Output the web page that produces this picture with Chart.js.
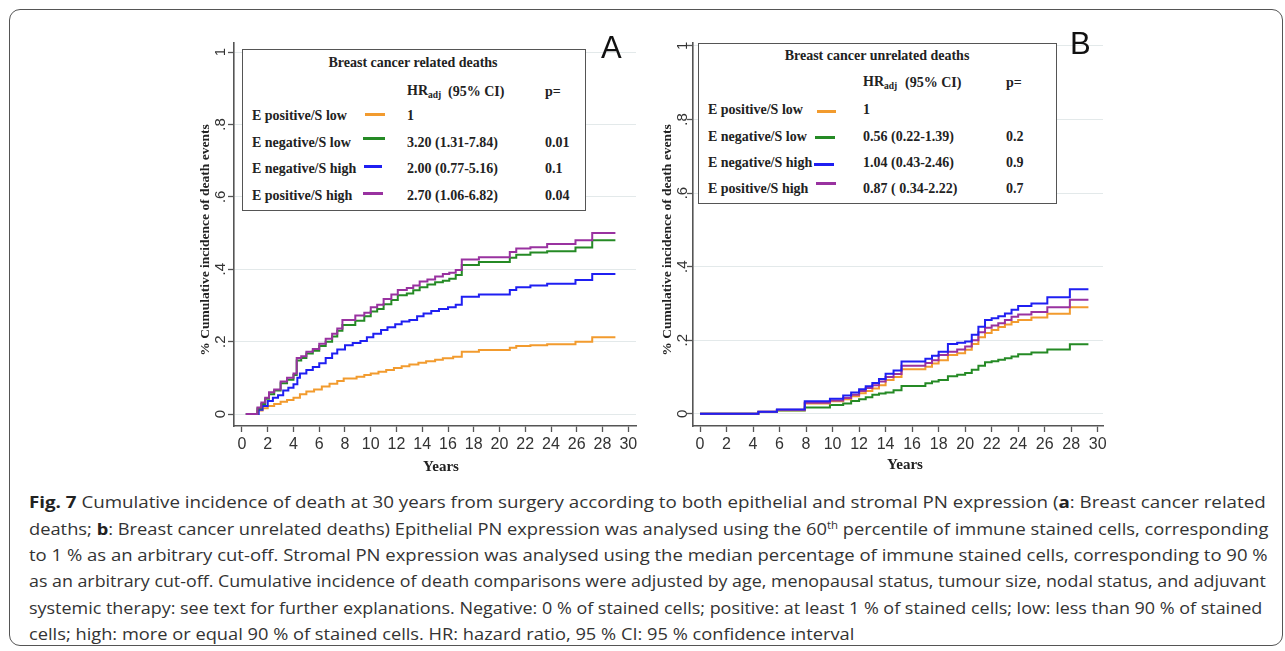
<!DOCTYPE html>
<html><head><meta charset="utf-8">
<script src="https://cdn.jsdelivr.net/npm/chart.js@4.4.0/dist/chart.umd.min.js"></script>
<style>
body{margin:0;width:1285px;height:651px;background:#fff;position:relative;overflow:hidden;}
.frame{position:absolute;left:9px;top:9px;width:1274px;height:637px;border:1.3px solid #555;border-radius:11px;box-sizing:border-box;}
canvas{position:absolute;top:0;}
#cA{left:150px;} #cB{left:610px;}
.leg{position:absolute;border:1.6px solid #555;background:#fff;box-sizing:border-box;}
.t{position:absolute;font:bold 14px "Liberation Serif",serif;color:#222;white-space:nowrap;transform:translateY(-50%);line-height:1;}
.t sub{font-size:9.5px;vertical-align:-3px;}
.tc{transform:translate(-50%,-50%);}
.sw{position:absolute;height:3px;}
.pl{position:absolute;font:31px "Liberation Sans",Arial,sans-serif;color:#111;line-height:1;}
.cap{position:absolute;left:29px;font:16px "Open Sans",sans-serif;color:#333;white-space:nowrap;line-height:1;transform-origin:left center;}
.cap b{font-weight:700;color:#222;}
.cap sup{font-size:10px;vertical-align:6px;line-height:0;}
</style></head>
<body>
<div class="frame"></div>
<canvas id="cA" width="500" height="480"></canvas>
<canvas id="cB" width="500" height="480"></canvas>

<div class="pl" style="left:601px;top:32px;">A</div>
<div class="pl" style="left:1070px;top:28px;">B</div>

<!-- Legend A -->
<div class="leg" style="left:242px;top:49px;width:344px;height:162px;"></div>
<div class="t tc" style="left:413px;top:63px;">Breast cancer related deaths</div>
<div class="t" style="left:407px;top:92px;">HR<sub>adj</sub></div>
<div class="t" style="left:448px;top:92px;">(95% CI)</div>
<div class="t" style="left:545px;top:92px;">p=</div>
<div class="t" style="left:252px;top:116px;">E positive/S low</div>
<div class="t" style="left:252px;top:143px;">E negative/S low</div>
<div class="t" style="left:252px;top:169px;">E negative/S high</div>
<div class="t" style="left:252px;top:196px;">E positive/S high</div>
<div class="sw" style="left:365px;top:113px;width:20px;background:#f29b2e;"></div>
<div class="sw" style="left:363px;top:137px;width:22px;background:#258a25;"></div>
<div class="sw" style="left:364px;top:165px;width:18px;background:#1f1ff2;"></div>
<div class="sw" style="left:363px;top:192px;width:20px;background:#9932a0;"></div>
<div class="t" style="left:407px;top:116px;">1</div>
<div class="t" style="left:407px;top:143px;">3.20 (1.31-7.84)</div>
<div class="t" style="left:407px;top:169px;">2.00 (0.77-5.16)</div>
<div class="t" style="left:407px;top:196px;">2.70 (1.06-6.82)</div>
<div class="t" style="left:545px;top:143px;">0.01</div>
<div class="t" style="left:545px;top:169px;">0.1</div>
<div class="t" style="left:545px;top:196px;">0.04</div>

<!-- Legend B -->
<div class="leg" style="left:698px;top:43px;width:359px;height:161px;"></div>
<div class="t tc" style="left:877px;top:56px;">Breast cancer unrelated deaths</div>
<div class="t" style="left:863px;top:83px;">HR<sub>adj</sub></div>
<div class="t" style="left:905px;top:83px;">(95% CI)</div>
<div class="t" style="left:1006px;top:83px;">p=</div>
<div class="t" style="left:708px;top:110px;">E positive/S low</div>
<div class="t" style="left:708px;top:137px;">E negative/S low</div>
<div class="t" style="left:708px;top:163px;">E negative/S high</div>
<div class="t" style="left:708px;top:189px;">E positive/S high</div>
<div class="sw" style="left:817px;top:110px;width:19px;background:#f29b2e;"></div>
<div class="sw" style="left:815px;top:136px;width:20px;background:#258a25;"></div>
<div class="sw" style="left:814px;top:163px;width:20px;background:#1f1ff2;"></div>
<div class="sw" style="left:816px;top:182px;width:20px;background:#9932a0;"></div>
<div class="t" style="left:863px;top:110px;">1</div>
<div class="t" style="left:863px;top:137px;">0.56 (0.22-1.39)</div>
<div class="t" style="left:863px;top:163px;">1.04 (0.43-2.46)</div>
<div class="t" style="left:863px;top:189px;">0.87 ( 0.34-2.22)</div>
<div class="t" style="left:1006px;top:137px;">0.2</div>
<div class="t" style="left:1006px;top:163px;">0.9</div>
<div class="t" style="left:1006px;top:189px;">0.7</div>

<!-- Caption -->
<div class="cap" data-w="1237" style="top:502px;"><b>Fig. 7</b> Cumulative incidence of death at 30 years from surgery according to both epithelial and stromal PN expression (<b>a</b>: Breast cancer related</div>
<div class="cap" data-w="1239" style="top:529px;">deaths; <b>b</b>: Breast cancer unrelated deaths) Epithelial PN expression was analysed using the 60<sup>th</sup> percentile of immune stained cells, corresponding</div>
<div class="cap" data-w="1239" style="top:555px;">to 1 % as an arbitrary cut-off. Stromal PN expression was analysed using the median percentage of immune stained cells, corresponding to 90 %</div>
<div class="cap" data-w="1237" style="top:581px;">as an arbitrary cut-off. Cumulative incidence of death comparisons were adjusted by age, menopausal status, tumour size, nodal status, and adjuvant</div>
<div class="cap" data-w="1233" style="top:608px;">systemic therapy: see text for further explanations. Negative: 0 % of stained cells; positive: at least 1 % of stained cells; low: less than 90 % of stained</div>
<div class="cap" data-w="0" style="top:634px;">cells; high: more or equal 90 % of stained cells. HR: hazard ratio, 95 % CI: 95 % confidence interval</div>

<script>
// ---------- Tick values / labels ----------
const xTickVals = [0,2,4,6,8,10,12,14,16,18,20,22,24,26,28,30];
const xTickLabels = ['0','2','4','6','8','10','12','14','16','18','20','22','24','26','28','30'];
const yTickVals = [0,0.2,0.4,0.6,0.8,1];
const yTickLabels = ['0','.2','.4','.6','.8','1'];
const yTitle = '% Cumulative incidence of death events';
const xTitle = 'Years';

// ---------- Panel A: breast cancer related deaths ----------
const A_posLow_t = [0.3,1.0,1.2,1.6,2.0,2.5,3.0,3.5,4.0,4.5,5.0,5.6,6.2,6.8,7.4,7.9,8.9,9.5,10.0,10.6,11.2,11.8,12.4,13.0,13.7,14.3,15.0,15.6,16.4,17.07,18.4,20.8,21.3,22.4,23.7,25.9,27.2,29.0];
const A_posLow_v = [0,0,0.01,0.016,0.022,0.028,0.034,0.039,0.045,0.055,0.062,0.068,0.076,0.084,0.091,0.098,0.103,0.108,0.112,0.117,0.122,0.127,0.132,0.137,0.142,0.146,0.150,0.154,0.158,0.172,0.177,0.183,0.188,0.190,0.193,0.200,0.212,0.212];

const A_negLow_t = [0.3,1.0,1.2,1.5,1.8,2.1,2.5,3.0,3.5,4.0,4.25,4.6,5.0,5.5,6.0,6.5,7.0,7.4,7.8,8.8,9.5,10.0,10.5,11.0,11.6,12.1,12.8,13.3,13.8,14.4,15.0,15.6,16.1,16.6,17.07,18.4,20.8,21.3,22.4,23.7,25.9,27.2,29.0];
const A_negLow_v = [0,0,0.015,0.028,0.042,0.055,0.065,0.085,0.095,0.108,0.148,0.155,0.167,0.175,0.188,0.200,0.214,0.230,0.246,0.258,0.270,0.283,0.290,0.303,0.315,0.328,0.333,0.342,0.350,0.358,0.364,0.368,0.374,0.384,0.412,0.420,0.432,0.440,0.446,0.450,0.460,0.480,0.480];

const A_negHigh_t = [0.3,1.0,1.3,1.6,2.0,2.4,2.8,3.2,3.6,4.0,4.3,4.5,5.0,5.5,6.0,6.5,7.0,7.4,8.0,8.6,9.2,9.7,10.2,10.8,11.3,11.9,12.4,13.0,13.6,14.1,14.7,15.3,16.0,16.6,17.07,18.4,20.8,21.3,22.4,23.7,25.9,27.2,29.0];
const A_negHigh_v = [0,0,0.012,0.022,0.036,0.045,0.052,0.065,0.073,0.082,0.100,0.112,0.122,0.130,0.140,0.155,0.167,0.178,0.190,0.196,0.202,0.212,0.222,0.232,0.240,0.248,0.256,0.260,0.270,0.278,0.285,0.290,0.295,0.302,0.324,0.330,0.343,0.350,0.355,0.360,0.370,0.387,0.387];

const A_posHigh_t = [0.3,1.0,1.2,1.5,1.8,2.1,2.5,3.0,3.5,4.0,4.25,4.6,5.0,5.5,6.0,6.5,7.0,7.4,7.8,8.8,9.5,10.0,10.5,11.0,11.6,12.1,12.8,13.3,13.8,14.4,15.0,15.6,16.1,16.6,17.07,18.4,20.8,21.3,22.4,23.7,25.9,27.2,29.0];
const A_posHigh_v = [0,0,0.018,0.032,0.045,0.060,0.068,0.090,0.100,0.112,0.155,0.160,0.172,0.180,0.194,0.208,0.222,0.236,0.260,0.272,0.280,0.295,0.302,0.318,0.330,0.343,0.348,0.355,0.366,0.372,0.380,0.387,0.390,0.398,0.427,0.433,0.448,0.457,0.461,0.470,0.480,0.500,0.500];

// ---------- Panel B: breast cancer unrelated deaths ----------
const B_t = [0,4.4,5.8,7.9,9.8,10.8,11.4,12.0,12.5,13.0,13.5,14.0,14.6,15.2,17.0,17.5,18.0,18.7,19.4,20.0,20.5,21.0,21.5,22.0,22.5,23.0,23.5,24.0,25.0,26.2,27.9,29.3];
const B_posLow_v  = [0,0.006,0.010,0.028,0.034,0.040,0.048,0.056,0.062,0.069,0.078,0.092,0.100,0.121,0.128,0.137,0.146,0.160,0.165,0.174,0.190,0.208,0.220,0.228,0.236,0.243,0.250,0.255,0.262,0.272,0.290,0.290];
const B_negLow_v  = [0,0.005,0.009,0.017,0.024,0.028,0.035,0.040,0.045,0.052,0.055,0.058,0.064,0.076,0.083,0.088,0.092,0.102,0.106,0.111,0.120,0.131,0.140,0.143,0.147,0.151,0.156,0.162,0.167,0.175,0.189,0.189];
const B_negHigh_v = [0,0.006,0.012,0.034,0.041,0.050,0.058,0.067,0.075,0.084,0.095,0.109,0.118,0.142,0.150,0.158,0.169,0.190,0.193,0.197,0.215,0.237,0.255,0.260,0.265,0.273,0.283,0.293,0.300,0.317,0.339,0.339];
const B_posHigh_v = [0,0.006,0.011,0.030,0.036,0.043,0.052,0.062,0.070,0.078,0.088,0.100,0.108,0.131,0.138,0.146,0.160,0.169,0.175,0.183,0.200,0.222,0.234,0.240,0.246,0.255,0.264,0.270,0.277,0.290,0.310,0.310];

const colors = {posLow:'#f29b2e', negLow:'#258a25', negHigh:'#1f1ff2', posHigh:'#9932a0'};

function pts(t, v){ return t.map((x,i)=>({x:x, y:v[i]})); }
function ds(t, v, c){ return {data:pts(t,v), borderColor:c, borderWidth:2, pointRadius:0, stepped:'before', fill:false, tension:0}; }

const deco = {
  id:'deco',
  afterDraw(chart, args, o){
    const ctx = chart.ctx, ys = chart.scales.y, ca = chart.chartArea;
    ctx.save();
    ctx.fillStyle = '#333';
    ctx.textAlign = 'center'; ctx.textBaseline = 'middle';
    ctx.font = '15px "Liberation Sans", Arial, sans-serif';
    yTickVals.forEach((v,i)=>{
      const py = ys.getPixelForValue(v);
      ctx.save(); ctx.translate(ca.left - o.tickOff, py); ctx.rotate(-Math.PI/2);
      ctx.fillText(yTickLabels[i], 0, 0); ctx.restore();
    });
    ctx.fillStyle = '#222';
    ctx.font = 'bold 13.5px "Liberation Serif", serif';
    ctx.save(); ctx.translate(ca.left - o.titleOff, o.titleY); ctx.rotate(-Math.PI/2);
    ctx.fillText(yTitle, 0, 0); ctx.restore();
    ctx.font = 'bold 15px "Liberation Serif", serif';
    ctx.fillText(xTitle, o.xtX, o.xtY);
    ctx.restore();
  }
};

function makeChart(id, datasets, xr, yr, padRight, yW, decoOpts){
  return new Chart(document.getElementById(id), {
    type:'line',
    data:{datasets:datasets},
    options:{
      responsive:false, animation:false, devicePixelRatio:1,
      layout:{padding:{top:43, right:padRight, left:0, bottom:0}},
      plugins:{legend:{display:false}, tooltip:{enabled:false}, deco:decoOpts},
      scales:{
        x:{type:'linear', min:xr[0], max:xr[1],
          afterBuildTicks:s=>{ s.ticks = xTickVals.map(v=>({value:v})); },
          afterFit:s=>{ s.height = 54; },
          ticks:{autoSkip:false, maxRotation:0, minRotation:0, padding:3, color:'#333',
            font:{family:'"Liberation Sans", Arial, sans-serif', size:16},
            callback:(v,i)=>xTickLabels[i]},
          grid:{drawOnChartArea:false, drawTicks:true, tickLength:6, tickColor:'#555', tickWidth:1.3},
          border:{display:true, color:'#555', width:1.6}
        },
        y:{type:'linear', min:yr[0], max:yr[1],
          afterBuildTicks:s=>{ s.ticks = yTickVals.map(v=>({value:v})); },
          afterFit:s=>{ s.width = yW; },
          ticks:{display:false},
          grid:{color:'#e3e9ea', lineWidth:1, drawTicks:true, tickLength:6, tickColor:'#555', tickWidth:1.3},
          border:{display:true, color:'#555', width:1.6}
        }
      }
    },
    plugins:[deco]
  });
}

makeChart('cA', [
  ds(A_posHigh_t, A_posHigh_v, colors.posHigh),
  ds(A_negLow_t, A_negLow_v, colors.negLow),
  ds(A_negHigh_t, A_negHigh_v, colors.negHigh),
  ds(A_posLow_t, A_posLow_v, colors.posLow)
], [-0.62, 30.6], [-0.033, 1.025], 14, 84, {tickOff:13, titleOff:28, titleY:240, xtX:291, xtY:467});

makeChart('cB', [
  ds(B_t, B_negHigh_v, colors.negHigh),
  ds(B_t, B_posHigh_v, colors.posHigh),
  ds(B_t, B_posLow_v, colors.posLow),
  ds(B_t, B_negLow_v, colors.negLow)
], [-0.53, 30.4], [-0.033, 1.008], 7, 83, {tickOff:10, titleOff:25, titleY:240, xtX:295, xtY:465});

// caption line fitting
(function(){
  const caps = Array.from(document.querySelectorAll('.cap'));
  let ks = [];
  caps.forEach(c=>{
    const w = +c.dataset.w;
    if (w > 0) { const k = w / c.offsetWidth; ks.push(k); c.style.transform = 'translateY(-50%) scaleX(' + k + ')'; }
  });
  const avg = ks.reduce((a,b)=>a+b,0)/ks.length;
  caps.forEach(c=>{ if (+c.dataset.w === 0) c.style.transform = 'translateY(-50%) scaleX(' + avg + ')'; });
})();
</script>
</body></html>
